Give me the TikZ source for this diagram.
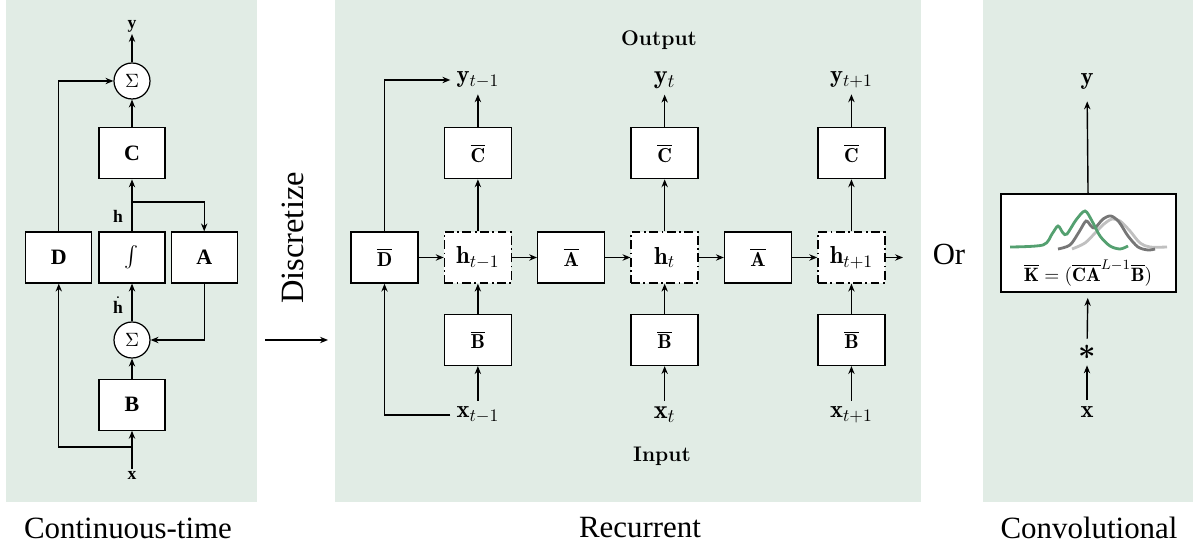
\documentclass[tikz,border=0pt]{standalone}
\usepackage{fontspec}
\usepackage{amsmath}
\usepackage{tikz}
\usetikzlibrary{arrows.meta, positioning}
\newfontfamily\tnr{Liberation Serif}
\definecolor{panelgreen}{RGB}{225,236,229}
\definecolor{curvegreen}{RGB}{84,160,112}
\definecolor{curvedark}{RGB}{118,118,118}
\definecolor{curvelight}{RGB}{192,192,192}
\tikzstyle{ctbox} = [rectangle, draw=black, fill=white, line width=0.7pt, minimum width=1.32cm, minimum height=1.02cm, text centered, font=\tnr\bfseries\fontsize{12.5}{14}\selectfont]
\tikzstyle{sumnode} = [circle, draw=black, fill=white, line width=0.7pt, minimum size=0.72cm, inner sep=0pt, font=\fontsize{11}{13}\selectfont]
\tikzstyle{ctlbl} = [inner sep=1pt, font=\tnr\bfseries\fontsize{10}{12}\selectfont]
\tikzstyle{rbox} = [rectangle, draw=black, fill=white, line width=0.8pt, minimum width=1.34cm, minimum height=1.02cm, text centered, font=\fontsize{11.5}{14}\selectfont]
\tikzstyle{hbox} = [rbox, dash pattern=on 5pt off 2pt on 1pt off 2pt]
\tikzstyle{mlbl} = [font=\fontsize{14}{16}\selectfont]
\tikzstyle{biglbl} = [font=\fontsize{15}{17}\selectfont]
\tikzstyle{tag} = [font=\bfseries\fontsize{12}{14}\selectfont]
\tikzstyle{captxt} = [font=\tnr\fontsize{17.6}{20}\selectfont]
\tikzstyle{arrow} = [line width=0.8pt,-{Stealth[length=4.5pt,width=3.6pt]}]

\begin{document}
\begin{tikzpicture}[x=0.02cm, y=-0.02cm, node distance=0.5cm]
\path[fill=white] (0,0) rectangle (1193,550);
% panels
\fill[panelgreen] (6,0) rectangle (257,502);
\fill[panelgreen] (335,0) rectangle (921,502);
\fill[panelgreen] (983,0) rectangle (1193,502);

% continuous-time
\node[ctbox] (int) at (132,257.5) {$\int$};
\node[ctbox, left=0.12cm of int] (D) {D};
\node[ctbox, right=0.1cm of int] (A) {A};
\node[ctbox, above=1.04cm of int] (C) {C};
\node[ctbox, below=1.9cm of int] (B) {B};
\node[sumnode] (sumtop) at (132,81) {$\Sigma$};
\node[sumnode] (sumbot) at (132,340) {$\Sigma$};
\node[ctlbl] (yc) at (132,26) {y};
\node[ctlbl] (xc) at (132,475) {x};
\node[ctlbl] (hc) at (118,216) {h};
\node[ctlbl] (hdot) at (118,305) {$\dot{\mbox{\tnr\bfseries h}}$};
\coordinate (hsplit) at (132,202);
\coordinate (xsplit) at (132,447);
\draw[arrow] (sumtop) -- (yc);
\draw[arrow] (C) -- (sumtop);
\draw[arrow] (int) -- (C);
\draw[arrow] (hsplit) -| (A);
\draw[arrow] (sumbot) -- (int);
\draw[arrow] (B) -- (sumbot);
\draw[arrow] (xc) -- (B);
\draw[arrow] (A.south) |- (sumbot);
\draw[arrow] (D.north) |- (sumtop);
\draw[arrow] (xsplit) -| (D.south);
\node[captxt] (ctcap) at (128,528) {Continuous-time};

% discretize
\node[rotate=90, font=\tnr\fontsize{18.5}{20}\selectfont] (disc) at (293,238) {Discretize};
\coordinate (dstart) at (265,340);
\coordinate (dend) at (328,340);
\draw[arrow] (dstart) -- (dend);

% recurrent
\coordinate (toprow) at (0,80);
\coordinate (botrow) at (0,415);
\node[rbox] (Dbar) at (384.5,257.5) {$\overline{\mathbf{D}}$};
\node[hbox, right=of Dbar] (h1) {\fontsize{14}{16}\selectfont$\mathbf{h}_{t-1}$};
\node[rbox, right=of h1] (Abar1) {$\overline{\mathbf{A}}$};
\node[hbox, right=of Abar1] (h2) {\fontsize{14}{16}\selectfont$\mathbf{h}_{t}$};
\node[rbox, right=of h2] (Abar2) {$\overline{\mathbf{A}}$};
\node[hbox, right=of Abar2] (h3) {\fontsize{14}{16}\selectfont$\mathbf{h}_{t+1}$};
\node[rbox, above=1.04cm of h1] (Cbar1) {$\overline{\mathbf{C}}$};
\node[rbox, above=1.04cm of h2] (Cbar2) {$\overline{\mathbf{C}}$};
\node[rbox, above=1.04cm of h3] (Cbar3) {$\overline{\mathbf{C}}$};
\node[rbox, below=0.6cm of h1] (Bbar1) {$\overline{\mathbf{B}}$};
\node[rbox, below=0.6cm of h2] (Bbar2) {$\overline{\mathbf{B}}$};
\node[rbox, below=0.6cm of h3] (Bbar3) {$\overline{\mathbf{B}}$};
\node[mlbl] (y1) at (h1 |- toprow) {$\mathbf{y}_{t-1}$};
\node[biglbl] (y2) at (h2 |- toprow) {$\mathbf{y}_{t}$};
\node[mlbl] (y3) at (h3 |- toprow) {$\mathbf{y}_{t+1}$};
\node[mlbl] (x1) at (h1 |- botrow) {$\mathbf{x}_{t-1}$};
\node[biglbl] (x2) at (h2 |- botrow) {$\mathbf{x}_{t}$};
\node[mlbl] (x3) at (h3 |- botrow) {$\mathbf{x}_{t+1}$};
\coordinate (hout) at (903,257.5);
\draw[arrow] (Dbar) -- (h1);
\draw[arrow] (h1) -- (Abar1);
\draw[arrow] (Abar1) -- (h2);
\draw[arrow] (h2) -- (Abar2);
\draw[arrow] (Abar2) -- (h3);
\draw[arrow] (h3) -- (hout);
\foreach \i in {1,2,3} {
  \draw[arrow] (h\i) -- (Cbar\i);
  \draw[arrow] (Cbar\i) -- (y\i);
  \draw[arrow] (Bbar\i) -- (h\i);
  \draw[arrow] (x\i) -- (Bbar\i);
}
\draw[arrow] (Dbar) |- (y1);
\draw[arrow] (x1) -| (Dbar);
\node[tag] (outtag) at (659,40) {Output};
\node[tag] (intag) at (662,456) {Input};
\node[captxt] (reccap) at (640,528) {Recurrent};

\node[font=\tnr\fontsize{17.5}{20}\selectfont] (ortxt) at (949,254) {Or};

% convolutional
\node[draw=black, fill=white, line width=0.8pt, minimum width=3.5cm, minimum height=1.96cm] (K) at (1088.5,243) {};
\draw[curvelight, line width=1.6pt] plot[smooth] coordinates {(1072,249) (1085,243) (1096,232) (1104,224) (1112,219) (1120,221) (1130,231) (1140,243) (1150,247) (1167,247)};
\draw[curvedark, line width=1.6pt] plot[smooth] coordinates {(1058,249) (1070,245) (1079,232) (1086,221) (1091,226) (1095,228) (1103,219) (1111,216) (1119,222) (1128,236) (1138,247) (1148,250) (1155,249)};
\draw[curvegreen, line width=1.6pt] plot[smooth] coordinates {(1010,247) (1043,245) (1052,234) (1058,226) (1063,233) (1067,234) (1076,220) (1085,211) (1092,221) (1100,236) (1110,246) (1120,249) (1128,246)};
\node[font=\fontsize{11}{13}\selectfont] (kform) at (1088,273) {$\overline{\mathbf{K}} = (\overline{\mathbf{CA}}^{L-1}\overline{\mathbf{B}})$};
\node[mlbl] (yk) at (1087,82) {$\mathbf{y}$};
\node[font=\fontsize{18}{20}\selectfont] (conv) at (1087,352) {$\boldsymbol{\ast}$};
\node[mlbl] (xk) at (1087,412) {$\mathbf{x}$};
\draw[arrow, shorten >=3pt] (K) -- (yk);
\draw[arrow, shorten >=3pt] (conv) -- (K);
\draw[arrow] (xk) -- (conv);
\node[captxt] (convcap) at (1089,528) {Convolutional};
\end{tikzpicture}
\end{document}
